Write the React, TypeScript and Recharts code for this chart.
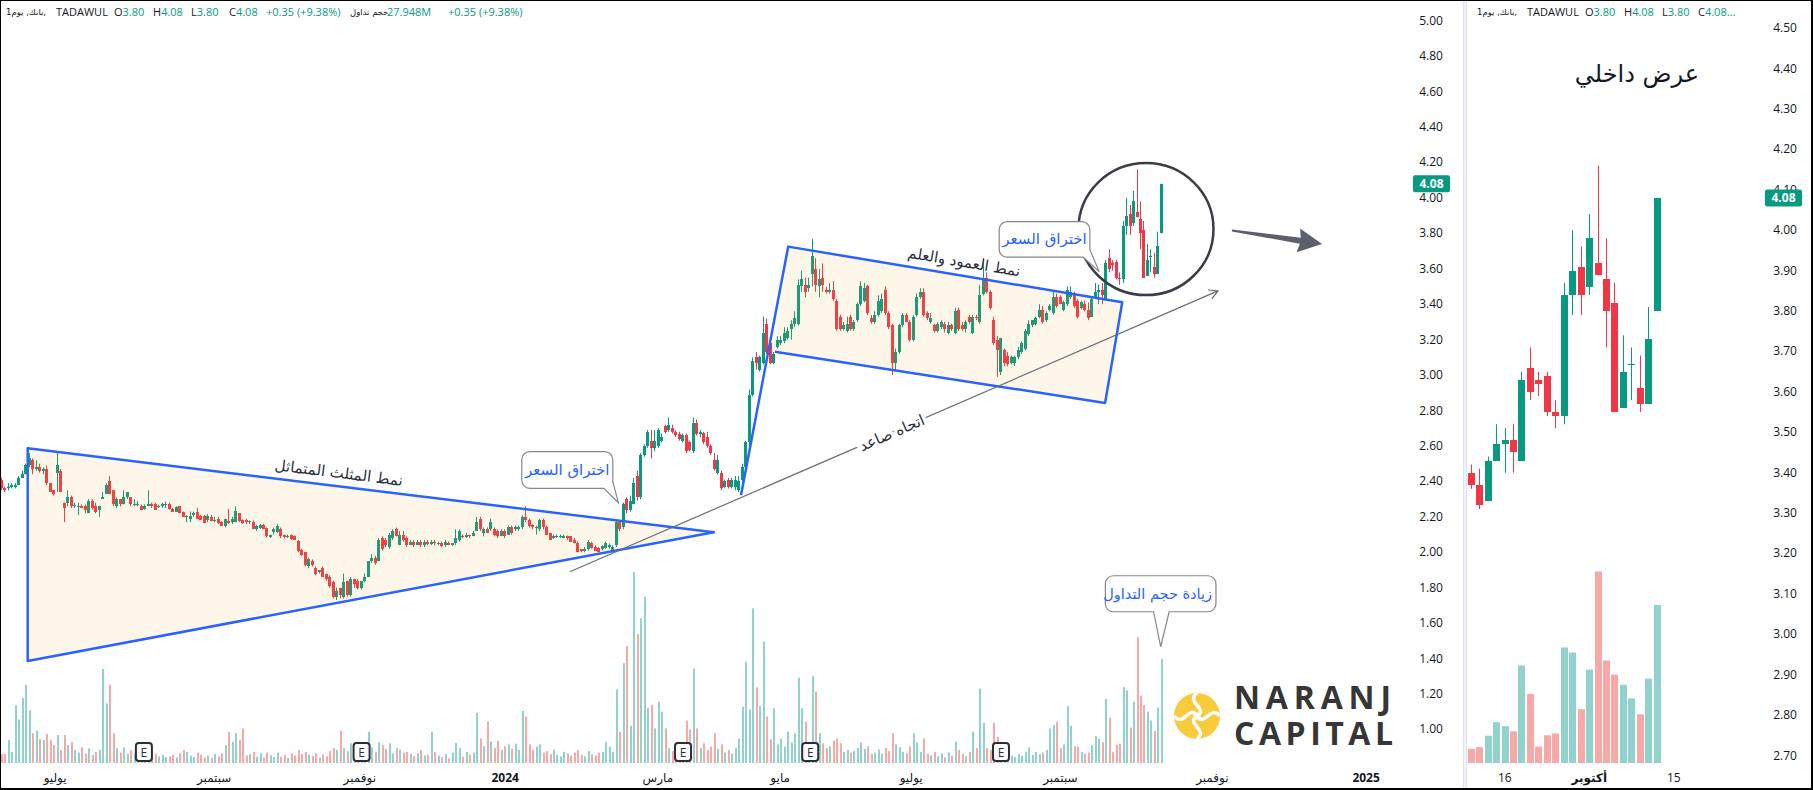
import React from "react";
import { ComposedChart, Bar, XAxis, YAxis } from "recharts";

// daily candles, Jun 2023 -> 13 Oct 2024 (last 23 are the zoomed window)
const opens = [
  2.41,2.36,2.36,2.37,2.37,2.38,2.42,2.44,2.49,2.52, 2.47,2.48,2.46,2.47,2.39,2.35,2.45,2.46,2.28,2.28,
  2.31,2.26,2.255,2.26,2.26,2.22,2.29,2.26,2.24,2.30, 2.33,2.40,2.35,2.26,2.30,2.27,2.31,2.31,2.27,2.27,
  2.26,2.245,2.26,2.275,2.27,2.255,2.26,2.27,2.275,2.245, 2.23,2.26,2.225,2.20,2.19,2.21,2.225,2.205,2.205,2.18,
  2.20,2.18,2.19,2.17,2.15,2.175,2.17,2.17,2.22,2.18, 2.18,2.17,2.17,2.13,2.135,2.155,2.135,2.085,2.115,2.115,
  2.13,2.10,2.085,2.10,2.09,2.064,2.013,2.00,1.92,1.95, 1.91,1.89,1.91,1.88,1.86,1.83,1.75,1.80,1.75,1.84,
  1.76,1.85,1.84,1.80,1.84,1.86,1.95,1.97,1.95,2.08, 2.07,2.03,2.08,2.13,2.04,2.10,2.08,2.04,2.06,2.04,
  2.06,2.04,2.06,2.045,2.06,2.05,2.055,2.04,2.055,2.04, 2.05,2.07,2.09,2.085,2.10,2.09,2.12,2.19,2.11,2.13,
  2.13,2.13,2.12,2.09,2.12,2.10,2.14,2.13,2.13,2.14, 2.20,2.18,2.155,2.14,2.13,2.18,2.14,2.11,2.08,2.085,
  2.085,2.08,2.09,2.09,2.07,2.05,2.02,2.005,2.02,2.05, 2.03,2.025,2.02,2.025,2.03,2.01,2.04,2.17,2.14,2.30,
  2.24,2.27,2.43,2.31,2.55,2.60,2.63,2.59,2.60,2.63, 2.71,2.69,2.70,2.68,2.67,2.63,2.66,2.62,2.57,2.73,
  2.67,2.675,2.65,2.60,2.52,2.45,2.45,2.37,2.41,2.37, 2.37,2.35,2.41,2.48,2.62,2.89,3.10,3.03,3.07,3.29,
  3.18,3.07,3.16,3.18,3.19,3.21,3.26,3.29,3.29,3.50, 3.51,3.49,3.57,3.60,3.50,3.55,3.48,3.47,3.48,3.42,
  3.33,3.26,3.25,3.33,3.26,3.31,3.40,3.42,3.50,3.32, 3.30,3.34,3.36,3.48,3.35,3.28,3.07,3.13,3.28,3.34,
  3.30,3.20,3.34,3.44,3.47,3.35,3.30,3.28,3.25,3.27, 3.29,3.24,3.28,3.24,3.37,3.28,3.26,3.33,3.24,3.33,
  3.30,3.46,3.55,3.47,3.31,3.20,3.02,3.14,3.11,3.07, 3.07,3.10,3.13,3.15,3.23,3.28,3.29,3.33,3.37,3.31,
  3.37,3.35,3.44,3.44,3.37,3.40,3.44,3.46,3.42,3.38, 3.40,3.37,3.33,3.43,3.47,3.48,3.43,3.66,3.63,3.64,
  3.55,3.54,3.84,3.91,3.86,3.92,3.88,3.82,3.56,3.67, 3.61,3.57,3.80,
];
const highs = [
  2.42,2.37,2.39,2.39,2.39,2.43,2.46,2.50,2.56,2.53, 2.52,2.50,2.48,2.49,2.39,2.35,2.56,2.47,2.28,2.35,
  2.32,2.28,2.28,2.27,2.27,2.30,2.30,2.28,2.26,2.34, 2.39,2.43,2.35,2.31,2.30,2.35,2.34,2.31,2.30,2.29,
  2.27,2.27,2.35,2.28,2.28,2.27,2.28,2.285,2.28,2.25, 2.26,2.26,2.23,2.21,2.23,2.23,2.25,2.21,2.21,2.215,
  2.21,2.20,2.20,2.175,2.19,2.245,2.20,2.26,2.22,2.185, 2.19,2.18,2.18,2.155,2.16,2.16,2.14,2.10,2.14,2.16,
  2.14,2.10,2.10,2.10,2.095,2.07,2.02,2.00,1.97,1.96, 1.92,1.90,1.92,1.88,1.87,1.84,1.80,1.80,1.88,1.84,
  1.86,1.85,1.85,1.84,1.88,1.95,1.99,1.98,2.08,2.09, 2.08,2.11,2.13,2.14,2.12,2.12,2.09,2.07,2.07,2.07,
  2.07,2.07,2.07,2.07,2.07,2.06,2.06,2.07,2.06,2.05, 2.13,2.13,2.10,2.11,2.10,2.12,2.20,2.20,2.14,2.14,
  2.19,2.14,2.13,2.13,2.13,2.15,2.15,2.15,2.15,2.21, 2.26,2.19,2.16,2.15,2.19,2.19,2.15,2.11,2.10,2.10,
  2.10,2.10,2.095,2.09,2.08,2.06,2.02,2.03,2.07,2.06, 2.04,2.03,2.04,2.06,2.05,2.04,2.18,2.18,2.28,2.31,
  2.32,2.42,2.46,2.56,2.61,2.69,2.69,2.69,2.70,2.67, 2.72,2.76,2.72,2.69,2.68,2.67,2.67,2.63,2.76,2.75,
  2.69,2.68,2.68,2.61,2.56,2.55,2.46,2.41,2.42,2.42, 2.43,2.43,2.50,2.63,2.92,3.10,3.13,3.11,3.33,3.32,
  3.22,3.13,3.22,3.22,3.27,3.27,3.31,3.36,3.54,3.59, 3.55,3.55,3.77,3.66,3.60,3.63,3.50,3.52,3.53,3.43,
  3.34,3.30,3.33,3.34,3.31,3.41,3.53,3.52,3.51,3.34, 3.36,3.45,3.46,3.50,3.36,3.29,3.15,3.29,3.35,3.35,
  3.31,3.34,3.46,3.49,3.49,3.36,3.35,3.29,3.30,3.31, 3.30,3.30,3.29,3.38,3.38,3.30,3.31,3.34,3.34,3.34,
  3.51,3.66,3.58,3.48,3.33,3.22,3.21,3.15,3.13,3.11, 3.11,3.16,3.19,3.26,3.31,3.31,3.33,3.40,3.39,3.36,
  3.40,3.47,3.46,3.45,3.42,3.50,3.50,3.47,3.43,3.42, 3.42,3.41,3.44,3.52,3.51,3.52,3.65,3.71,3.65,3.65,
  3.58,3.87,4.00,3.96,4.04,4.16,3.98,3.87,3.74,3.71, 3.69,3.81,4.08,
];
const lows = [
  2.35,2.34,2.35,2.36,2.36,2.38,2.42,2.44,2.48,2.44, 2.46,2.45,2.44,2.38,2.34,2.32,2.34,2.34,2.17,2.26,
  2.25,2.25,2.21,2.25,2.22,2.22,2.24,2.22,2.20,2.30, 2.33,2.33,2.26,2.25,2.26,2.27,2.30,2.26,2.26,2.26,
  2.24,2.24,2.26,2.25,2.24,2.25,2.25,2.25,2.24,2.23, 2.23,2.22,2.20,2.17,2.17,2.20,2.19,2.185,2.165,2.17,
  2.175,2.17,2.16,2.15,2.14,2.16,2.16,2.17,2.17,2.16, 2.16,2.16,2.13,2.12,2.13,2.13,2.085,2.08,2.10,2.11,
  2.08,2.08,2.08,2.07,2.07,2.00,1.98,1.92,1.91,1.92, 1.87,1.88,1.86,1.84,1.80,1.74,1.73,1.74,1.74,1.75,
  1.75,1.80,1.79,1.79,1.83,1.86,1.94,1.93,1.95,2.01, 2.03,2.02,2.07,2.09,2.04,2.06,2.03,2.04,2.03,2.04,
  2.03,2.03,2.04,2.04,2.04,2.04,2.03,2.03,2.04,2.035, 2.04,2.06,2.08,2.08,2.08,2.09,2.12,2.12,2.09,2.11,
  2.12,2.09,2.08,2.09,2.08,2.10,2.10,2.12,2.12,2.13, 2.17,2.14,2.13,2.10,2.12,2.13,2.10,2.07,2.075,2.08,
  2.08,2.08,2.07,2.06,2.05,2.00,2.00,2.00,2.01,2.02, 2.01,2.00,2.01,2.02,2.02,2.00,2.03,2.12,2.13,2.22,
  2.23,2.27,2.29,2.30,2.54,2.59,2.53,2.57,2.59,2.62, 2.67,2.68,2.67,2.65,2.63,2.62,2.56,2.57,2.56,2.66,
  2.65,2.61,2.59,2.55,2.46,2.44,2.35,2.36,2.36,2.36, 2.35,2.34,2.40,2.47,2.60,2.88,3.03,3.02,3.06,3.12,
  3.06,3.06,3.15,3.17,3.18,3.20,3.20,3.27,3.28,3.47, 3.44,3.47,3.50,3.47,3.44,3.47,3.46,3.46,3.42,3.25,
  3.25,3.25,3.24,3.25,3.25,3.30,3.39,3.41,3.34,3.29, 3.29,3.33,3.35,3.34,3.26,3.00,3.02,3.12,3.27,3.30,
  3.19,3.19,3.33,3.43,3.33,3.31,3.29,3.24,3.24,3.26, 3.24,3.23,3.25,3.23,3.25,3.25,3.24,3.29,3.23,3.31,
  3.29,3.45,3.46,3.37,3.17,2.99,3.00,3.05,3.05,3.06, 3.05,3.09,3.12,3.14,3.22,3.27,3.28,3.32,3.29,3.30,
  3.36,3.34,3.38,3.40,3.36,3.39,3.43,3.38,3.32,3.37, 3.36,3.31,3.33,3.43,3.40,3.40,3.43,3.58,3.59,3.54,
  3.51,3.52,3.79,3.79,3.84,3.89,3.71,3.55,3.56,3.58, 3.55,3.57,3.80,
];
const closes = [
  2.36,2.35,2.37,2.38,2.38,2.42,2.44,2.49,2.53,2.47, 2.48,2.46,2.47,2.39,2.34,2.33,2.49,2.34,2.25,2.31,
  2.26,2.265,2.26,2.25,2.24,2.29,2.25,2.23,2.26,2.31, 2.38,2.33,2.27,2.30,2.27,2.31,2.34,2.27,2.275,2.275,
  2.24,2.26,2.275,2.26,2.24,2.26,2.275,2.275,2.245,2.23, 2.255,2.22,2.20,2.205,2.205,2.22,2.19,2.185,2.165,2.205,
  2.175,2.185,2.165,2.15,2.19,2.165,2.19,2.235,2.175,2.165, 2.17,2.175,2.13,2.15,2.155,2.13,2.09,2.10,2.13,2.15,
  2.09,2.085,2.092,2.075,2.07,2.01,1.985,1.93,1.96,1.93, 1.88,1.90,1.86,1.85,1.81,1.75,1.78,1.76,1.83,1.76,
  1.85,1.82,1.80,1.84,1.86,1.95,1.97,1.94,2.07,2.02, 2.04,2.10,2.12,2.09,2.10,2.07,2.04,2.06,2.04,2.06,
  2.04,2.06,2.045,2.06,2.05,2.055,2.035,2.06,2.04,2.05, 2.08,2.12,2.085,2.10,2.09,2.11,2.17,2.13,2.13,2.11,
  2.17,2.10,2.09,2.12,2.09,2.14,2.11,2.14,2.145,2.20, 2.18,2.15,2.14,2.142,2.18,2.14,2.10,2.07,2.09,2.09,
  2.09,2.09,2.08,2.06,2.05,2.00,2.005,2.02,2.06,2.025, 2.01,2.00,2.035,2.05,2.04,2.03,2.17,2.13,2.27,2.24,
  2.29,2.39,2.31,2.55,2.60,2.68,2.59,2.63,2.69,2.65, 2.68,2.72,2.68,2.66,2.64,2.66,2.57,2.58,2.73,2.67,
  2.68,2.62,2.60,2.56,2.47,2.52,2.36,2.40,2.37,2.41, 2.41,2.40,2.48,2.62,2.89,3.08,3.07,3.10,3.24,3.13,
  3.07,3.12,3.20,3.20,3.24,3.25,3.29,3.32,3.51,3.54, 3.47,3.51,3.67,3.51,3.54,3.51,3.47,3.48,3.43,3.26,
  3.26,3.28,3.29,3.26,3.30,3.40,3.50,3.49,3.35,3.30, 3.34,3.42,3.43,3.35,3.27,3.07,3.13,3.28,3.34,3.30,
  3.20,3.33,3.44,3.47,3.34,3.32,3.32,3.25,3.29,3.30, 3.26,3.28,3.26,3.36,3.26,3.26,3.30,3.30,3.33,3.32,
  3.45,3.55,3.47,3.38,3.18,3.14,3.21,3.07,3.06,3.10, 3.10,3.14,3.18,3.25,3.29,3.31,3.32,3.37,3.30,3.35,
  3.39,3.44,3.39,3.40,3.41,3.48,3.47,3.39,3.33,3.41, 3.37,3.32,3.43,3.47,3.48,3.45,3.63,3.60,3.62,3.55,
  3.54,3.84,3.90,3.84,3.98,3.89,3.80,3.55,3.65,3.67, 3.57,3.73,4.08,
];
// volume, millions
const volumes = [
  2.4,2.4,6.2,3.0,15.6,11.7,17.4,21.0,14.2,8.0, 8.7,6.4,6.2,7.8,6.2,4.8,7.5,3.5,7.5,4.8,
  5.7,3.5,2.8,4.2,2.5,3.9,2.2,3.0,3.5,25.3, 16.0,21.0,8.0,4.0,2.8,4.2,2.5,3.4,2.5,2.0,
  2.7,2.2,3.0,2.0,2.5,1.8,2.2,1.6,1.8,2.2, 1.5,2.6,3.5,3.0,2.0,1.6,2.8,2.2,1.5,2.0,
  1.4,2.5,1.8,2.6,4.8,8.4,5.7,8.0,6.2,9.3, 2.0,2.4,3.0,1.7,2.6,1.5,2.8,2.1,1.6,2.8,
  1.7,2.2,1.4,2.6,2.0,3.5,2.4,3.0,2.2,1.8, 2.6,1.5,2.3,1.8,3.2,4.0,3.5,8.7,4.0,3.2,
  5.3,2.8,3.8,2.5,3.2,8.4,4.2,3.0,5.5,4.8, 3.8,5.3,2.6,4.0,3.6,2.8,3.0,2.4,1.8,2.6,
  3.5,2.0,2.2,8.4,3.0,2.0,1.6,2.4,1.3,2.8, 5.4,4.0,1.7,3.0,2.2,2.8,13.5,6.6,4.5,11.1,
  5.8,4.0,6.0,3.5,4.5,5.0,3.8,5.2,3.5,14.0, 12.5,5.0,3.6,4.4,5.0,2.8,3.2,2.4,3.6,2.2,
  1.8,3.0,2.6,2.0,2.8,3.5,2.2,1.8,3.2,2.4, 2.0,2.8,3.0,5.7,4.4,3.0,19.8,8.4,26.8,31.5,
  10.0,51.4,34.6,38.9,44.7,14.7,15.6,9.3,16.5,13.8, 9.3,4.0,3.2,4.5,2.6,3.5,11.4,9.0,25.4,9.3,
  4.0,5.3,3.5,4.4,8.0,3.8,5.0,2.8,3.5,2.5, 4.0,6.6,15.1,27.2,14.4,41.6,20.3,15.3,32.6,12.5,
  6.4,14.7,5.0,6.5,4.4,8.4,5.5,8.0,22.9,14.7, 11.1,5.0,23.4,19.2,8.0,5.3,4.0,4.5,6.0,6.6,
  5.3,3.0,3.5,2.8,3.2,4.0,5.5,3.8,4.5,2.4, 2.8,3.6,2.5,4.0,3.2,8.0,5.0,4.2,3.0,2.6,
  4.5,8.0,5.5,3.0,6.6,2.5,2.0,3.0,1.8,2.6, 1.5,2.8,2.0,5.7,3.5,2.4,1.8,3.0,8.4,4.0,
  20.0,10.8,4.0,3.5,10.8,7.0,5.0,3.0,2.2,2.0, 1.6,2.4,2.0,3.0,4.2,2.2,3.0,2.4,2.8,3.5,
  9.3,10.2,11.1,4.0,5.0,15.3,10.0,4.5,4.4,3.0, 2.5,2.8,4.8,7.2,6.5,5.6,17.2,12.2,2.9,4.9,
  5.2,20.4,19.5,9.5,16.5,33.8,18.1,15.6,13.8,11.4, 8.6,14.9,27.9,
];

const mainTickPos = [15.3, 60.8, 102.5, 144.1, 187.8, 222.8, 260.3, 303, 346.5, 390.5];
const mainTickLabels = ["يوليو", "سبتمبر", "نوفمبر", "2024", "مارس", "مايو", "يوليو", "سبتمبر", "نوفمبر", "2025"];
const priceTicks = [1.0, 1.2, 1.4, 1.6, 1.8, 2.0, 2.2, 2.4, 2.6, 2.8, 3.0, 3.2, 3.4, 3.6, 3.8, 4.0, 4.2, 4.4, 4.6, 4.8, 5.0];
const zoomTickPos = [4, 14, 24];
const zoomTickLabels = ["16", "أكتوبر", "15"];
const zoomPriceTicks = [2.7, 2.8, 2.9, 3.0, 3.1, 3.2, 3.3, 3.4, 3.5, 3.6, 3.7, 3.8, 3.9, 4.0, 4.1, 4.2, 4.3, 4.4, 4.5];
const earningsIdx = [40.7, 103, 195, 231.4, 286];
const ZOOM_FROM = 310;
const LAST = 4.08;

const UP = "#089981";
const DOWN = "#f23645";
const VOL_UP = "#92d2cc";
const VOL_DN = "#f7a9a7";
const BLUE = "#2962ff";
const TXT = "#131722";
const FILL = "rgba(245,166,35,0.1)";
const FONT = "'Open Sans', 'DejaVu Sans', sans-serif";
const AR = "'DejaVu Sans', sans-serif";

const rows = opens.map((o, i) => {
  const h = Math.max(highs[i], o, closes[i]);
  const l = Math.min(lows[i], o, closes[i]);
  return { i, o, h, l, c: closes[i], range: [l, h], vol: volumes[i], up: closes[i] >= o };
});
const zoomRows = rows.slice(ZOOM_FROM).map((r, j) => ({ ...r, i: j }));

// plot geometry
const PLOT_H = 765;
const MAIN_W = 1463;
const MAIN_L = 1;
const MAIN_AX = 63;
const MAIN_PW = MAIN_W - MAIN_L - MAIN_AX;
const MAIN_XD: [number, number] = [-0.2, 400.2];
const MAIN_YD: [number, number] = [0.7996, 5.1168];
const MAIN_VD: [number, number] = [-0.54, 205.1];

const ZX = 1465;
const ZW = 347;
const ZL = 3;
const ZAX = 54;
const Z_XD: [number, number] = [-0.355, 33.965];
const Z_YD: [number, number] = [2.6765, 4.57];
const Z_VD: [number, number] = [-0.353, 134.7];

const MX = (i: number) => MAIN_L + ((i - MAIN_XD[0]) * MAIN_PW) / (MAIN_XD[1] - MAIN_XD[0]);
const MY = (p: number) => ((MAIN_YD[1] - p) * PLOT_H) / (MAIN_YD[1] - MAIN_YD[0]);
const ZY = (p: number) => ((Z_YD[1] - p) * PLOT_H) / (Z_YD[1] - Z_YD[0]);

const makeCandle = (bodyW: number) => (props: any) => {
  const { x, y, width, height, payload } = props;
  if (!payload || !isFinite(x) || !isFinite(y)) return <g />;
  const hh = Math.abs(height);
  const top = height >= 0 ? y : y + height;
  const k = payload.h > payload.l ? hh / (payload.h - payload.l) : 0;
  const py = (v: number) => top + (payload.h - v) * k;
  const cx = x + width / 2;
  const left = Math.round(cx - bodyW / 2);
  const wx = left + Math.floor(bodyW / 2) + 0.5;
  const col = payload.up ? UP : DOWN;
  const bt = Math.round(py(Math.max(payload.o, payload.c)));
  const bb = Math.round(py(Math.min(payload.o, payload.c)));
  return (
    <g>
      <line x1={wx} x2={wx} y1={top} y2={top + hh} stroke={col} strokeWidth={1} />
      <rect x={left} y={bt} width={bodyW} height={Math.max(1, bb - bt)} fill={col} />
    </g>
  );
};

const makeVol = (w: number) => (props: any) => {
  const { x, y, width, height, payload } = props;
  if (!payload || !isFinite(x) || !isFinite(y)) return <g />;
  const left = Math.round(x + width / 2 - w / 2);
  return <rect x={left} y={y} width={w} height={Math.max(0, height)} fill={payload.up ? VOL_UP : VOL_DN} />;
};

const mainXTick = (props: any) => {
  const label = mainTickLabels[mainTickPos.indexOf(props.payload.value)];
  const bold = /^\d{4}$/.test(label || "");
  return (
    <text x={props.x} y={782} textAnchor="middle" fontSize={12} fontWeight={bold ? 700 : 400} fill={TXT} fontFamily={FONT}>
      {label}
    </text>
  );
};
const zoomXTick = (props: any) => {
  const label = zoomTickLabels[zoomTickPos.indexOf(props.payload.value)];
  const bold = !/^\d+$/.test(label || "");
  return (
    <text x={props.x} y={782} textAnchor="middle" fontSize={12} fontWeight={bold ? 700 : 400} fill={TXT} fontFamily={FONT}>
      {label}
    </text>
  );
};
const priceTick = (cx: number) => (props: any) => (
  <text x={cx} y={props.y} dy={4} textAnchor="middle" fontSize={12} fill={TXT} fontFamily={FONT}>
    {Number(props.payload.value).toFixed(2)}
  </text>
);

function callout(tipI: number, tipP: number, box: [number, number, number, number], tail: number[][]) {
  const tx = MX(tipI);
  const ty = MY(tipP);
  const [l0, t0, r0, b0] = box;
  const L = tx + l0, T = ty + t0, R = tx + r0, B = ty + b0, r = 8;
  const tp = tail.map(([a, b]) => `${tx + a},${ty + b}`);
  // tail[0] on right edge or bottom edge (right side), tail[1] on bottom edge
  const onRight = tail[0][0] === r0;
  let d = `M${L + r},${T} H${R - r} A${r},${r} 0 0 1 ${R},${T + r} `;
  if (onRight) {
    d += `V${ty + tail[0][1]} L${tx},${ty} L${tp[1]} H${L + r} `;
  } else {
    d += `V${B - r} A${r},${r} 0 0 1 ${R - r},${B} H${tx + tail[0][0]} L${tx},${ty} L${tp[1]} H${L + r} `;
  }
  d += `A${r},${r} 0 0 1 ${L},${B - r} V${T + r} A${r},${r} 0 0 1 ${L + r},${T} Z`;
  return { d, cx: (L + R) / 2, cy: (T + B) / 2 };
}

function Overlay() {
  const tri = [[7.44, 2.587], [7.44, 1.387], [203.8, 2.113]].map(([i, p]) => `${MX(i)},${MY(p)}`).join(" ");
  const pole = [211.6, 2.323];
  const flag = [[225.1, 3.725], [320.7, 3.411], [315.8, 2.843], [221.3, 3.132]];
  const flagPts = flag.map(([i, p]) => `${MX(i)},${MY(p)}`).join(" ");
  const ts = [MX(162.6), MY(1.89)];
  const te = [MX(348.1), MY(3.475)];
  const ang = Math.atan2(te[1] - ts[1], te[0] - ts[0]);
  const head = (s: number) => [te[0] - 10 * Math.cos(ang + s), te[1] - 10 * Math.sin(ang + s)];
  const h1 = head(0.5), h2 = head(-0.5);
  // thick pointer arrow
  const as = [MX(352.1), MY(3.816)];
  const ae = [MX(377.9), MY(3.74)];
  const aa = Math.atan2(ae[1] - as[1], ae[0] - as[0]);
  const len = Math.hypot(ae[0] - as[0], ae[1] - as[1]);
  const P = (s: number, n: number) => `${as[0] + s * Math.cos(aa) - n * Math.sin(aa)},${as[1] + s * Math.sin(aa) + n * Math.cos(aa)}`;
  const arrow = [P(0, -1), P(len - 22, -3), P(len - 24, -12), P(len, 0), P(len - 24, 12), P(len - 22, 3), P(0, 1)].join(" ");

  const c1 = callout(176.5, 2.28, [-96.6, -51, -5.6, -14.4], [[-5.6, -21], [-14.5, -14.4]]);
  const c2 = callout(314.1, 3.584, [-100, -50, -9.3, -14.4], [[-9.3, -22], [-16, -14.4]]);
  const c3 = callout(331.7, 1.467, [-55.3, -71, 55.3, -35], [[8.5, -35], [-7.1, -35]]);

  const lbl = (i: number, p: number, rot: number, text: string, size: number, halo = false) => (
    <text
      x={MX(i)}
      y={MY(p)}
      transform={`rotate(${rot} ${MX(i)} ${MY(p)})`}
      textAnchor="middle"
      dominantBaseline="central"
      fontSize={size}
      fill="#2a2e39"
      fontFamily={AR}
      stroke={halo ? "#fff" : "none"}
      strokeWidth={halo ? 7 : 0}
      paintOrder="stroke"
    >
      {text}
    </text>
  );

  const tagY = MY(LAST);
  return (
    <svg width={MAIN_W} height={790} style={{ position: "absolute", left: 0, top: 0 }}>
      <polygon points={tri} fill={FILL} stroke={BLUE} strokeWidth={2.5} strokeLinejoin="round" />
      <polygon points={flagPts} fill={FILL} stroke="none" />
      <polyline
        points={[pole, ...flag].map(([i, p]) => `${MX(i)},${MY(p)}`).join(" ")}
        fill="none"
        stroke={BLUE}
        strokeWidth={2.5}
        strokeLinejoin="round"
      />
      <line x1={ts[0]} y1={ts[1]} x2={te[0]} y2={te[1]} stroke="#6a6d78" strokeWidth={1.2} />
      <polyline points={`${h1[0]},${h1[1]} ${te[0]},${te[1]} ${h2[0]},${h2[1]}`} fill="none" stroke="#6a6d78" strokeWidth={1.2} />
      {lbl(96.5, 2.448, 7, "نمط المثلث المتماثل", 15)}
      {lbl(275.4, 3.638, 9.5, "نمط العمود والعلم", 15)}
      {lbl(254.8, 2.673, -23.4, "اتجاه صاعد", 15, true)}

      <ellipse cx={MX(327.5)} cy={MY(3.824)} rx={67.5} ry={66} fill="none" stroke="#3a3d47" strokeWidth={2.5} />
      <polygon points={arrow} fill="#5d606b" />

      {[c1, c2].map((c, k) => (
        <g key={k}>
          <path d={c.d} fill="#fff" stroke="#86878c" strokeWidth={1.2} />
          <text x={c.cx} y={c.cy} textAnchor="middle" dominantBaseline="central" fontSize={15} fill={BLUE} fontFamily={AR}>
            اختراق السعر
          </text>
        </g>
      ))}
      <path d={c3.d} fill="#fff" stroke="#86878c" strokeWidth={1.2} />
      <text x={c3.cx - 3} y={c3.cy} textAnchor="middle" dominantBaseline="central" fontSize={14.5} fill={BLUE} fontFamily={AR}>
        زيادة حجم التداول
      </text>

      {earningsIdx.map((i) => (
        <g key={i}>
          <rect x={MX(i) - 8} y={743} width={16} height={18} rx={3} fill="#fff" stroke="#2a2e39" strokeWidth={2} />
          <text x={MX(i)} y={756.5} textAnchor="middle" fontSize={12} fill="#2a2e39" fontFamily={FONT}>
            E
          </text>
        </g>
      ))}

      <g transform="translate(1197,716)">
        <circle r={23} fill="#f8cb3d" />
        <path d="M0,-23 C-12,-13 12,-8 0,0 C-12,8 12,13 0,23" stroke="#fff" strokeWidth={3.5} fill="none" />
        <path d="M-23,0 C-13,12 -8,-12 0,0 C8,12 13,-12 23,0" stroke="#fff" strokeWidth={3.5} fill="none" />
        <circle r={3.5} fill="#fff" />
      </g>
      <text x={1234} y={708.5} fontSize={32} fontWeight={700} fill="#363636" fontFamily="'Open Sans', sans-serif" textLength={157} lengthAdjust="spacing">
        NARANJ
      </text>
      <text x={1234} y={745} fontSize={32} fontWeight={700} fill="#363636" fontFamily="'Open Sans', sans-serif" textLength={159} lengthAdjust="spacing">
        CAPITAL
      </text>

      <rect x={1413} y={tagY - 8.5} width={37} height={17} rx={2} fill={UP} />
      <text x={1431.5} y={tagY} dy={4} textAnchor="middle" fontSize={12} fontWeight={700} fill="#fff" fontFamily={FONT}>
        {LAST.toFixed(2)}
      </text>
    </svg>
  );
}

function Legend({ left, full }: { left: number; full: boolean }) {
  const s = (x: number, node: React.ReactNode, color = TXT, size = 11) => (
    <span style={{ position: "absolute", left: left + x, top: 4, color, whiteSpace: "nowrap", fontSize: size }}>{node}</span>
  );
  const ohlc = (x: number, k: string, v: string) =>
    s(x, <>
      <span style={{ color: TXT }}>{k}</span>
      <span style={{ color: UP }}>{v}</span>
    </>);
  return (
    <div style={{ position: "absolute", left: 0, top: 0, fontSize: 11, lineHeight: "16px", fontFamily: FONT }}>
      {s(0, <span style={{ display: "inline-flex", fontFamily: AR }}><span>1يوم</span><span>&nbsp;,</span><span>بانك</span><span>,</span></span>, TXT, 8.5)}
      {s(50, "TADAWUL")}
      {ohlc(108, "O", "3.80")}
      {ohlc(147, "H", "4.08")}
      {ohlc(185, "L", "3.80")}
      {ohlc(full ? 223 : 221, "C", full ? "4.08" : "4.08...")}
      {full && s(260, "+0.35 (+9.38%)", UP)}
      {full && s(344, <span style={{ fontFamily: AR }}>حجم تداول</span>, TXT, 8.5)}
      {full && s(381, "27.948M", UP)}
      {full && s(442, "+0.35 (+9.38%)", UP)}
    </div>
  );
}

export default function App() {
  const zTagY = ZY(LAST);
  return (
    <div style={{ position: "fixed", left: 0, top: 0, width: 1813, height: 790, background: "#fff", overflow: "hidden", fontFamily: FONT }}>
      {/* main pane: volume underlay */}
      <div style={{ position: "absolute", left: 0, top: 0 }}>
        <ComposedChart width={MAIN_W} height={790} data={rows} margin={{ top: 0, right: MAIN_AX, bottom: 25, left: MAIN_L }}>
          <XAxis dataKey="i" type="number" domain={MAIN_XD} allowDataOverflow hide />
          <YAxis yAxisId="v" domain={MAIN_VD} allowDataOverflow hide />
          <Bar yAxisId="v" dataKey="vol" barSize={2} shape={makeVol(2)} isAnimationActive={false} />
        </ComposedChart>
      </div>
      {/* main pane: candles + axes */}
      <div style={{ position: "absolute", left: 0, top: 0 }}>
        <ComposedChart width={MAIN_W} height={790} data={rows} margin={{ top: 0, right: 0, bottom: 0, left: MAIN_L }}>
          <XAxis
            dataKey="i"
            type="number"
            domain={MAIN_XD}
            allowDataOverflow
            ticks={mainTickPos}
            interval={0}
            tick={mainXTick}
            axisLine={false}
            tickLine={false}
            height={25}
          />
          <YAxis
            yAxisId="p"
            orientation="right"
            domain={MAIN_YD}
            allowDataOverflow
            ticks={priceTicks}
            interval={0}
            tick={priceTick(1431)}
            axisLine={false}
            tickLine={false}
            width={MAIN_AX}
          />
          <Bar yAxisId="p" dataKey="range" barSize={3} shape={makeCandle(3)} isAnimationActive={false} />
        </ComposedChart>
      </div>
      <Overlay />
      <Legend left={6} full />

      {/* separator */}
      <div style={{ position: "absolute", left: 1463, top: 0, width: 4, height: 790, background: "#f0f3fa", borderLeft: "1px solid #e0e3eb", borderRight: "1px solid #e0e3eb", boxSizing: "border-box" }} />

      {/* zoomed pane */}
      <div style={{ position: "absolute", left: ZX, top: 0 }}>
        <ComposedChart width={ZW} height={790} data={zoomRows} margin={{ top: 0, right: ZAX, bottom: 25, left: ZL }}>
          <XAxis dataKey="i" type="number" domain={Z_XD} allowDataOverflow hide />
          <YAxis yAxisId="v" domain={Z_VD} allowDataOverflow hide />
          <Bar yAxisId="v" dataKey="vol" barSize={7} shape={makeVol(7)} isAnimationActive={false} />
        </ComposedChart>
      </div>
      <div style={{ position: "absolute", left: ZX, top: 0 }}>
        <ComposedChart width={ZW} height={790} data={zoomRows} margin={{ top: 0, right: 0, bottom: 0, left: ZL }}>
          <XAxis
            dataKey="i"
            type="number"
            domain={Z_XD}
            allowDataOverflow
            ticks={zoomTickPos}
            interval={0}
            tick={zoomXTick}
            axisLine={false}
            tickLine={false}
            height={25}
          />
          <YAxis
            yAxisId="p"
            orientation="right"
            domain={Z_YD}
            allowDataOverflow
            ticks={zoomPriceTicks}
            interval={0}
            tick={priceTick(320)}
            axisLine={false}
            tickLine={false}
            width={ZAX}
          />
          <Bar yAxisId="p" dataKey="range" barSize={7} shape={makeCandle(7)} isAnimationActive={false} />
        </ComposedChart>
      </div>
      <svg width={ZW} height={790} style={{ position: "absolute", left: ZX, top: 0 }}>
        <text x={172} y={74} textAnchor="middle" dominantBaseline="central" fontSize={24} fill="#131722" fontFamily={AR}>
          عرض داخلي
        </text>
        <rect x={300} y={zTagY - 8.5} width={37} height={17} rx={2} fill={UP} />
        <text x={318.5} y={zTagY} dy={4} textAnchor="middle" fontSize={12} fontWeight={700} fill="#fff" fontFamily={FONT}>
          {LAST.toFixed(2)}
        </text>
      </svg>
      <Legend left={1477} full={false} />

      {/* frame */}
      <div style={{ position: "absolute", left: 0, top: 0, width: 1813, height: 790, boxSizing: "border-box", borderLeft: "1px solid #000", borderTop: "1px solid #000", borderRight: "2px solid #000", borderBottom: "2px solid #000", pointerEvents: "none" }} />
    </div>
  );
}
